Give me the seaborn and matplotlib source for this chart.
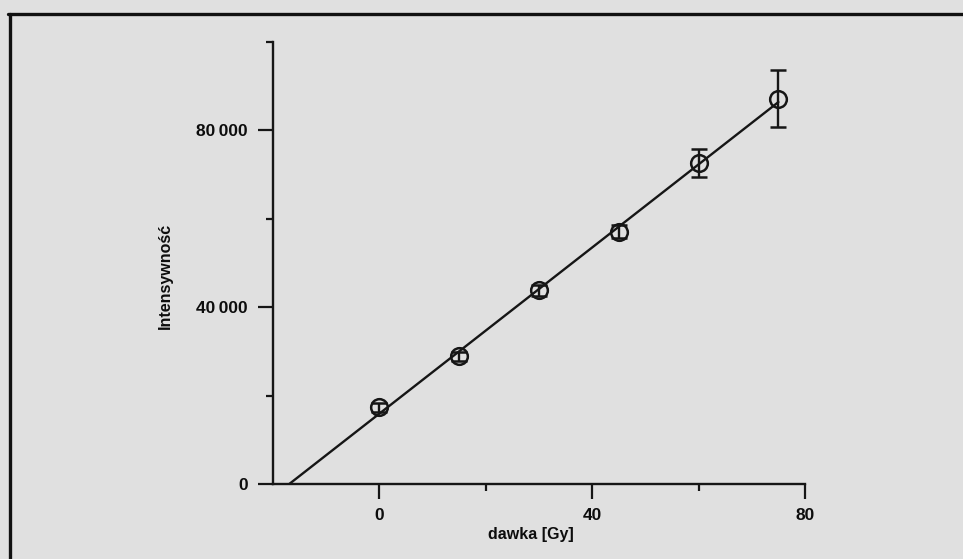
import numpy as np
import pandas as pd
import seaborn as sns
import matplotlib
matplotlib.use("Agg")
import matplotlib.pyplot as plt
from matplotlib.lines import Line2D
from matplotlib.ticker import FixedLocator, FuncFormatter

# Dose-response calibration points
dose = [0, 15, 30, 45, 60, 75]                      # Gy
intensity = [17400, 28900, 43800, 57100, 72600, 87200]
intensity_err = [1000, 1000, 1200, 1400, 3200, 6400]

x_major = [0, 40, 80]
x_minor = [20, 60]
y_major = [0, 40000, 80000]
y_minor = [20000, 60000, 100000]

x_label = "dawka [Gy]"
y_label = "Intensywność"

df = pd.DataFrame({"dose": dose, "intensity": intensity, "err": intensity_err})

# Linear fit, extended back to the dose axis intercept
slope, intercept = np.polyfit(df["dose"], df["intensity"], 1)
x0 = -intercept / slope
fit = pd.DataFrame({"dose": [x0, max(dose)]})
fit["intensity"] = intercept + slope * fit["dose"]

sns.set_theme(style="ticks")
bg = "#e0e0e0"
ink = "#161616"
plt.rcParams.update({
    "font.family": ["Liberation Sans", "DejaVu Sans"],
    "font.weight": "bold",
    "figure.facecolor": bg,
    "axes.facecolor": bg,
    "savefig.facecolor": bg,
})

fig = plt.figure(figsize=(9.63, 5.59), dpi=100)
ax = fig.add_axes([273 / 963, 1 - 484 / 559, (805 - 273) / 963, (484 - 42) / 559])
ax.patch.set_alpha(0)

sns.lineplot(data=fit, x="dose", y="intensity", ax=ax, color=ink, lw=1.7)
ax.errorbar(df["dose"], df["intensity"], yerr=df["err"], fmt="o",
            ms=12, mfc="none", mec=ink, mew=1.8,
            ecolor=ink, elinewidth=1.7, capsize=6, capthick=1.7,
            zorder=3)

ax.set_xlim(-20, 80)
ax.set_ylim(0, 100000)

ax.xaxis.set_major_locator(FixedLocator(x_major))
ax.xaxis.set_minor_locator(FixedLocator(x_minor))
ax.yaxis.set_major_locator(FixedLocator(y_major))
ax.yaxis.set_minor_locator(FixedLocator(y_minor))
ax.yaxis.set_major_formatter(
    FuncFormatter(lambda v, p: f"{v:,.0f}".replace(",", "\u2009")))

ax.tick_params(axis="both", which="major", length=11, width=1.6, color=ink,
               labelsize=12.5, labelcolor="#0d0d0d", pad=6)
ax.tick_params(axis="both", which="minor", length=5, width=1.6, color=ink)
ax.tick_params(axis="y", which="major", pad=7)

for side in ("top", "right"):
    ax.spines[side].set_visible(False)
for side in ("left", "bottom"):
    ax.spines[side].set_linewidth(1.7)
    ax.spines[side].set_color(ink)

ax.set_xlabel(x_label, fontsize=11.5, fontweight="bold", color="#0d0d0d")
ax.set_ylabel(y_label, fontsize=11.5, fontweight="bold", color="#0d0d0d")
ax.xaxis.set_label_coords((531 - 273) / (805 - 273), -(527 - 484) / (484 - 42))
ax.yaxis.set_label_coords(-(273 - 173) / (805 - 273), (484 - 276) / (484 - 42))
for lab in ax.get_xticklabels() + ax.get_yticklabels():
    lab.set_fontweight("bold")

# Page frame around the figure
fig.add_artist(Line2D([8 / 963, 1.0], [1 - 14 / 559, 1 - 14 / 559],
                      transform=fig.transFigure, color="#111111", lw=2.4))
fig.add_artist(Line2D([10 / 963, 10 / 963], [0.0, 1 - 14 / 559],
                      transform=fig.transFigure, color="#111111", lw=2.4))

fig.savefig("out.png", dpi=100)
